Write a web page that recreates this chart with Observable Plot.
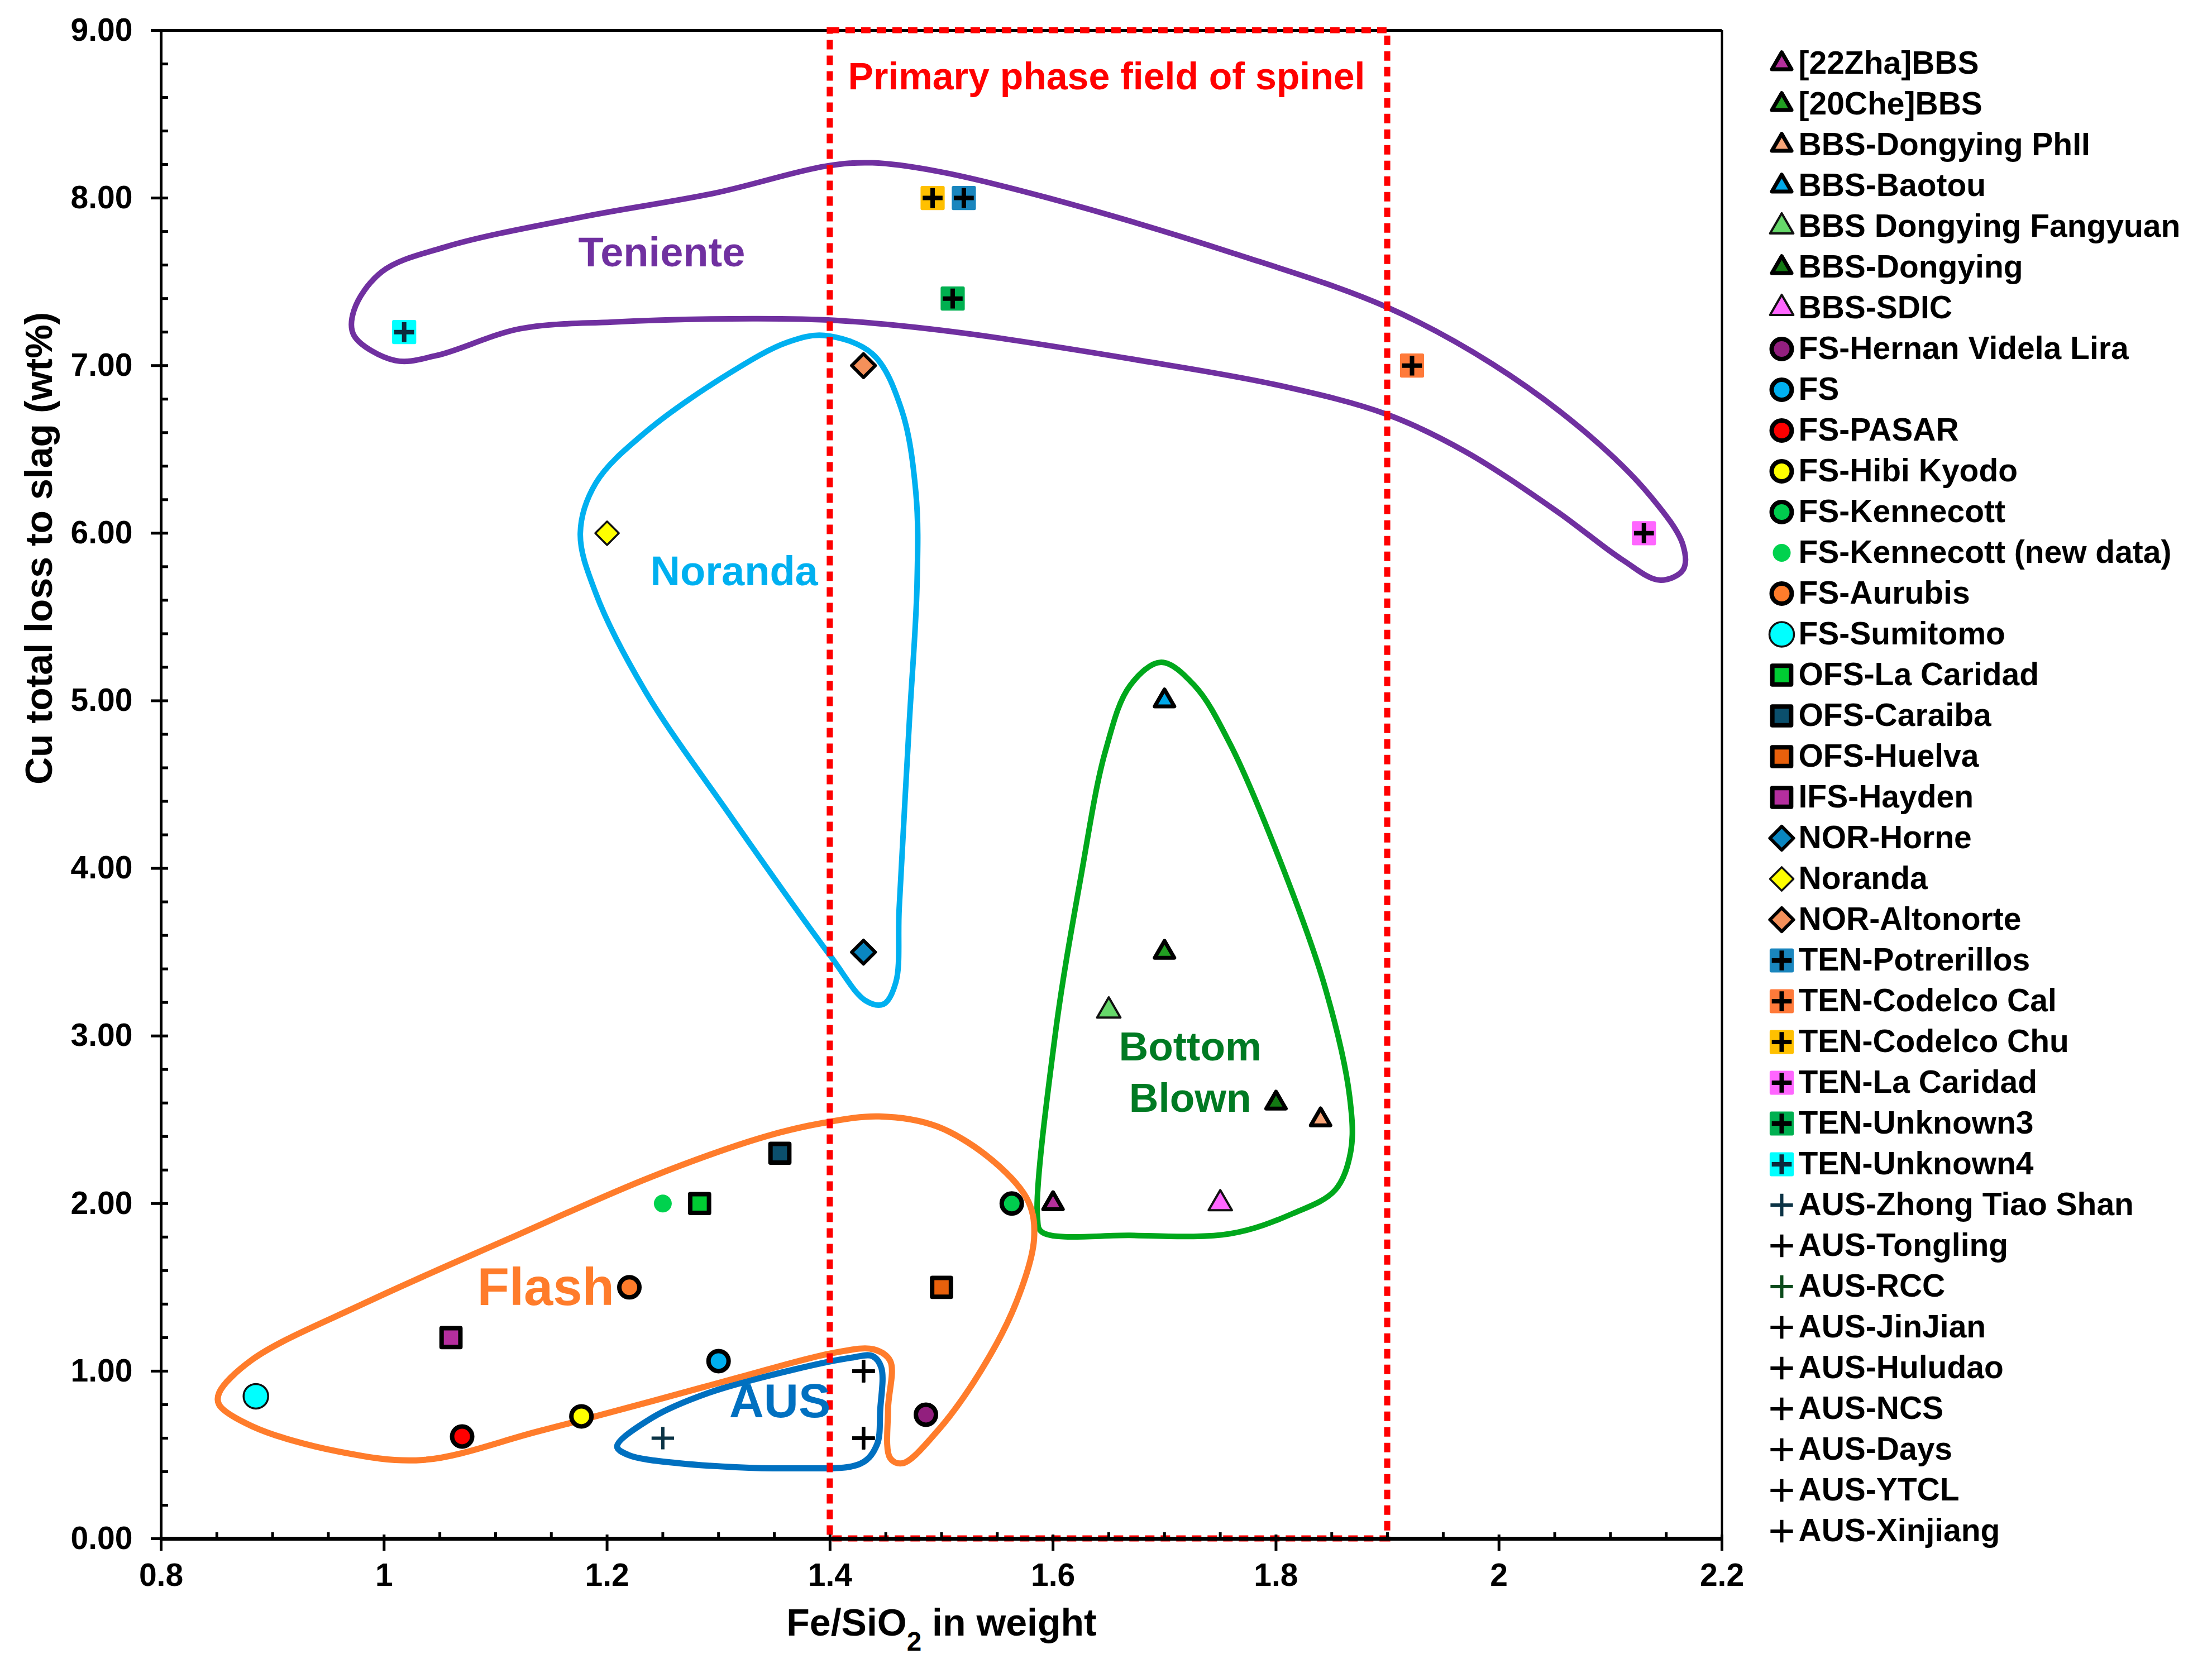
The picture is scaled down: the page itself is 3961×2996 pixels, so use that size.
<!DOCTYPE html>
<html><head><meta charset="utf-8">
<script src="https://cdn.jsdelivr.net/npm/d3@7"></script>
<script src="https://cdn.jsdelivr.net/npm/@observablehq/plot@0.6"></script>
<style>
html,body{margin:0;padding:0;background:#fff;overflow:hidden;}
#wrap{position:relative;width:3961px;height:2996px;}
#chart svg{display:block;}
#legend{position:absolute;left:3150px;top:71px;}
</style></head>
<body><div id="wrap"><div id="chart"></div><div id="legend"></div></div>
<script>
// ---------------- DATA ----------------
const seriesNames = ["[22Zha]BBS","[20Che]BBS","BBS-Dongying PhII","BBS-Baotou","BBS Dongying Fangyuan","BBS-Dongying","BBS-SDIC",
  "FS-Hernan Videla Lira","FS","FS-PASAR","FS-Hibi Kyodo","FS-Kennecott","FS-Kennecott (new data)","FS-Aurubis","FS-Sumitomo",
  "OFS-La Caridad","OFS-Caraiba","OFS-Huelva","IFS-Hayden","NOR-Horne","Noranda","NOR-Altonorte",
  "TEN-Potrerillos","TEN-Codelco Cal","TEN-Codelco Chu","TEN-La Caridad","TEN-Unknown3","TEN-Unknown4",
  "AUS-Zhong Tiao Shan","AUS-Tongling","AUS-RCC","AUS-JinJian","AUS-Huludao","AUS-NCS","AUS-Days","AUS-YTCL","AUS-Xinjiang"];
const seriesX = [1.60,1.70,1.84,1.70,1.65,1.80,1.75,
  1.486,1.30,1.07,1.177,1.563,1.25,1.22,0.885,
  1.283,1.355,1.50,1.06,1.43,1.20,1.43,
  1.52,1.922,1.492,2.13,1.51,1.018,
  1.25,1.43,1.43,1.43,1.43,1.43,1.43,1.43,1.43];
const seriesY = [2.00,3.50,2.50,5.00,3.15,2.60,2.00,
  0.74,1.06,0.61,0.73,2.00,2.00,1.50,0.85,
  2.00,2.30,1.50,1.20,3.50,6.00,7.00,
  8.00,7.00,8.00,6.00,7.40,7.20,
  0.60,1.00,0.60,0.60,1.00,0.60,1.00,0.60,1.00];

const xTickValues = [0.8,1,1.2,1.4,1.6,1.8,2,2.2];
const yTickValues = [0,1,2,3,4,5,6,7,8,9];
const xDomain = [0.8, 2.2];
const yDomain = [0, 9];
const xTitle = "Fe/SiO2 in weight";
const yTitle = "Cu total loss to slag (wt%)";

const spinelField = [{x1: 1.4, x2: 1.9, y1: 0, y2: 9}];

const tenienteOutline = [[0.973,7.18],[1.010,7.03],[1.047,7.06],[1.122,7.22],[1.205,7.26],[1.330,7.28],[1.405,7.27],[1.513,7.20],[1.679,7.03],[1.804,6.88],[1.899,6.71],[1.969,6.49],[2.052,6.13],[2.111,5.84],[2.144,5.72],[2.165,5.78],[2.165,5.93],[2.136,6.22],[2.078,6.60],[1.994,7.01],[1.899,7.35],[1.762,7.67],[1.596,8.00],[1.496,8.16],[1.438,8.21],[1.396,8.19],[1.297,8.03],[1.180,7.89],[1.056,7.71],[0.998,7.56],[0.973,7.33]];
const norandaOutline = [[1.395,7.18],[1.438,7.07],[1.464,6.74],[1.477,6.24],[1.478,5.69],[1.471,4.86],[1.462,3.76],[1.459,3.32],[1.448,3.19],[1.432,3.21],[1.400,3.48],[1.311,4.31],[1.234,5.06],[1.190,5.64],[1.176,6.00],[1.190,6.30],[1.234,6.60],[1.311,6.96],[1.362,7.14]];
const bottomBlownOutline = [[1.697,5.23],[1.727,5.09],[1.759,4.74],[1.804,4.04],[1.844,3.29],[1.866,2.64],[1.867,2.31],[1.853,2.08],[1.815,1.94],[1.759,1.82],[1.669,1.81],[1.590,1.83],[1.586,1.92],[1.602,3.01],[1.625,3.95],[1.647,4.70],[1.669,5.09]];
const flashOutline = [[0.852,0.87],[0.882,1.07],[0.984,1.41],[1.112,1.79],[1.240,2.16],[1.342,2.40],[1.393,2.48],[1.444,2.52],[1.496,2.46],[1.547,2.25],[1.578,2.01],[1.583,1.79],[1.567,1.41],[1.536,1.01],[1.496,0.64],[1.465,0.45],[1.454,0.48],[1.452,0.77],[1.454,1.06],[1.439,1.13],[1.404,1.11],[1.317,0.96],[1.240,0.82],[1.138,0.64],[1.035,0.47],[0.959,0.52],[0.882,0.67],[0.852,0.80]];
const ausOutline = [[1.209,0.55],[1.240,0.72],[1.291,0.87],[1.368,1.01],[1.419,1.08],[1.438,1.09],[1.446,1.02],[1.445,0.77],[1.442,0.56],[1.428,0.45],[1.368,0.42],[1.265,0.45],[1.219,0.50]];

const regionLabels = ["Teniente","Noranda","Bottom\nBlown","Flash","AUS","Primary phase field of spinel"];
const regionLabelX = [1.249,1.314,1.723,1.145,1.355,1.648];
const regionLabelY = [7.69,5.79,2.80,1.52,0.84,8.74];

// ---------------- STYLES ----------------
const FONT = "'Liberation Sans', Arial, Helvetica, sans-serif";
const markerKind = ["tri","tri","tri","tri","triThin","tri","triThin",
  "circ","circ","circ","circ","circ","plain","circ","circThin",
  "sq","sq","sq","sq","dia","diaThin","dia",
  "ten","ten","ten","ten","ten","ten",
  "plus","plus","plus","plus","plus","plus","plus","plus","plus"];
const markerColor = ["#B4309C","#22A022","#F7A477","#00A8E8","#66D86A","#137A13","#FF66FF",
  "#921F7E","#00B0F0","#FF0000","#FFFF00","#00CC4E","#00D24E","#FF7C2B","#00FFFF",
  "#00CC33","#0B4F6C","#E8600C","#B52E9E","#0A86C0","#FFFF00","#F4905A",
  "#1A86BE","#FF7A3A","#FFC000","#FF66FF","#00B050","#00FFFF",
  "#0B3345","#000000","#0B4A1A","#000000","#000000","#000000","#000000","#000000","#000000"];
const tenPlusColor = ["#000000","#000000","#000000","#000000","#000000","#0B2A3C"];
const regionColors = ["#7030A0","#00B0F0","#00A81C","#FF7C2B","#0070C0"];
const labelColors = ["#7030A0","#00B0F0","#007A23","#FF7C2B","#0070C0","#FF0000"];
const labelSizes = [74,74,73,94,86,68];

function markerMarks(data, i) {
  const k = markerKind[i], c = markerColor[i];
  const b = {x: "x", y: "y"};
  switch (k) {
    case "tri": return [Plot.dot(data, {...b, symbol: "triangle", r: 13, fill: c, stroke: "black", strokeWidth: 7, strokeLinejoin: "round"})];
    case "triThin": return [Plot.dot(data, {...b, symbol: "triangle", r: 15.5, fill: c, stroke: "#111", strokeWidth: 4, strokeLinejoin: "round"})];
    case "circ": return [Plot.dot(data, {...b, symbol: "circle", r: 18, fill: c, stroke: "black", strokeWidth: 8})];
    case "circThin": return [Plot.dot(data, {...b, symbol: "circle", r: 22, fill: c, stroke: "#111", strokeWidth: 3.5})];
    case "plain": return [Plot.dot(data, {...b, symbol: "circle", r: 16, fill: c, stroke: "none"})];
    case "sq": return [Plot.dot(data, {...b, symbol: "square", r: 19, fill: c, stroke: "black", strokeWidth: 8, strokeLinejoin: "round"})];
    case "dia": return [Plot.dot(data, {...b, symbol: "diamond2", r: 19, fill: c, stroke: "black", strokeWidth: 6, strokeLinejoin: "round"})];
    case "diaThin": return [Plot.dot(data, {...b, symbol: "diamond2", r: 19, fill: c, stroke: "#111", strokeWidth: 3.5, strokeLinejoin: "round"})];
    case "ten": {
      const pc = tenPlusColor[i - 22] || "#000";
      return [
        Plot.dot(data, {...b, symbol: "square", r: 21, fill: c, stroke: c, strokeWidth: 6, strokeLinejoin: "round"}),
        Plot.dot(data, {...b, symbol: "plus", r: 11.5, fill: "none", stroke: pc, strokeWidth: 8})
      ];
    }
    case "plus": return [Plot.dot(data, {...b, symbol: "plus", r: 13, fill: "none", stroke: c, strokeWidth: 6})];
  }
  return [];
}

// ---------------- MAIN PLOT ----------------
const yMinor = d3.range(0, 9.001, 0.2).filter(v => Math.abs(v - Math.round(v)) > 1e-6);
const xMinor = d3.range(0.8, 2.2001, 0.05).filter(v => Math.abs(v * 5 - Math.round(v * 5)) > 1e-6);

const outlines = [tenienteOutline, norandaOutline, bottomBlownOutline, ausOutline, flashOutline];
const outlineColor = [regionColors[0], regionColors[1], regionColors[2], regionColors[4], regionColors[3]];
const outlineWidth = [10, 10, 10, 11, 11];

const marks = [];
marks.push(Plot.ruleY([yDomain[1]], {stroke: "black", strokeWidth: 5}));
marks.push(Plot.ruleX([xDomain[1]], {stroke: "black", strokeWidth: 4}));
outlines.forEach((o, i) => {
  marks.push(Plot.line(o, {x: d => d[0], y: d => d[1], curve: "catmull-rom-closed", stroke: outlineColor[i], strokeWidth: outlineWidth[i], strokeLinejoin: "round"}));
});
marks.push(Plot.rect(spinelField, {x1: "x1", x2: "x2", y1: "y1", y2: "y2", fill: "none", stroke: "#FF0000", strokeWidth: 11, strokeDasharray: "17,11"}));
marks.push(Plot.ruleY([yDomain[0]], {stroke: "black", strokeWidth: 7}));
marks.push(Plot.ruleX([xDomain[0]], {stroke: "black", strokeWidth: 5}));
marks.push(Plot.axisX(xTickValues, {tickSize: 22, tickPadding: 22, tickFormat: d => String(d), fontSize: 57, strokeWidth: 5, label: null}));
marks.push(Plot.axisX(xTickValues, {tickSize: -7, tickFormat: () => "", strokeWidth: 5, label: null}));
marks.push(Plot.axisX(xMinor, {tickSize: -11, tickFormat: () => "", strokeWidth: 5, label: null}));
marks.push(Plot.axisY(yTickValues, {tickSize: 18, tickPadding: 33, tickFormat: d3.format(".2f"), fontSize: 57, strokeWidth: 5, label: null}));
marks.push(Plot.axisY(yTickValues, {tickSize: -13, tickFormat: () => "", strokeWidth: 5, label: null}));
marks.push(Plot.axisY(yMinor, {tickSize: -13, tickFormat: () => "", strokeWidth: 5, label: null}));
marks.push(Plot.text([yTitle], {text: d => d, frameAnchor: "left", dx: -217, rotate: -90, fontSize: 68, fill: "black"}));
marks.push(Plot.text([xTitle], {text: d => d, frameAnchor: "bottom", dy: 173, fontSize: 68, fill: "black"}));
seriesNames.forEach((n, i) => {
  const data = [{x: seriesX[i], y: seriesY[i]}];
  marks.push(...markerMarks(data, i));
});
regionLabels.forEach((t, i) => {
  marks.push(Plot.text([{x: regionLabelX[i], y: regionLabelY[i], t}], {x: "x", y: "y", text: "t", fill: labelColors[i], fontSize: labelSizes[i], lineHeight: 1.26}));
});

const chart = Plot.plot({
  width: 3961, height: 2996,
  marginLeft: 288, marginRight: 878, marginTop: 54, marginBottom: 241,
  x: {domain: xDomain},
  y: {domain: yDomain},
  style: {fontFamily: FONT, fontWeight: "bold", color: "black", background: "white", overflow: "visible"},
  marks
});
document.getElementById("chart").appendChild(chart);

chart.querySelectorAll("text").forEach(t => {
  if (t.textContent === xTitle) {
    t.textContent = "";
    const ns = "http://www.w3.org/2000/svg";
    const a = document.createElementNS(ns, "tspan"); a.textContent = "Fe/SiO";
    const s = document.createElementNS(ns, "tspan"); s.textContent = "2"; s.setAttribute("baseline-shift", "sub"); s.setAttribute("font-size", "70%");
    const c = document.createElementNS(ns, "tspan"); c.textContent = " in weight";
    t.appendChild(a); t.appendChild(s); t.appendChild(c);
  }
});

// ---------------- LEGEND ----------------
const legendMarks = [];
seriesNames.forEach((n, i) => {
  legendMarks.push(...markerMarks([{x: 0, y: n}], i));
});
legendMarks.push(Plot.text(seriesNames, {x: () => 0, y: d => d, text: d => d, dx: 30, textAnchor: "start", fontSize: 57, fill: "black"}));
const legend = Plot.plot({
  width: 811, height: 37 * 73.3,
  marginLeft: 40, marginRight: 0, marginTop: 0, marginBottom: 0,
  x: {domain: [0, 1], axis: null},
  y: {type: "band", domain: seriesNames, padding: 0, axis: null},
  style: {fontFamily: FONT, fontWeight: "bold", color: "black", background: "transparent", overflow: "visible"},
  marks: legendMarks
});
document.getElementById("legend").appendChild(legend);
</script>
</body></html>
